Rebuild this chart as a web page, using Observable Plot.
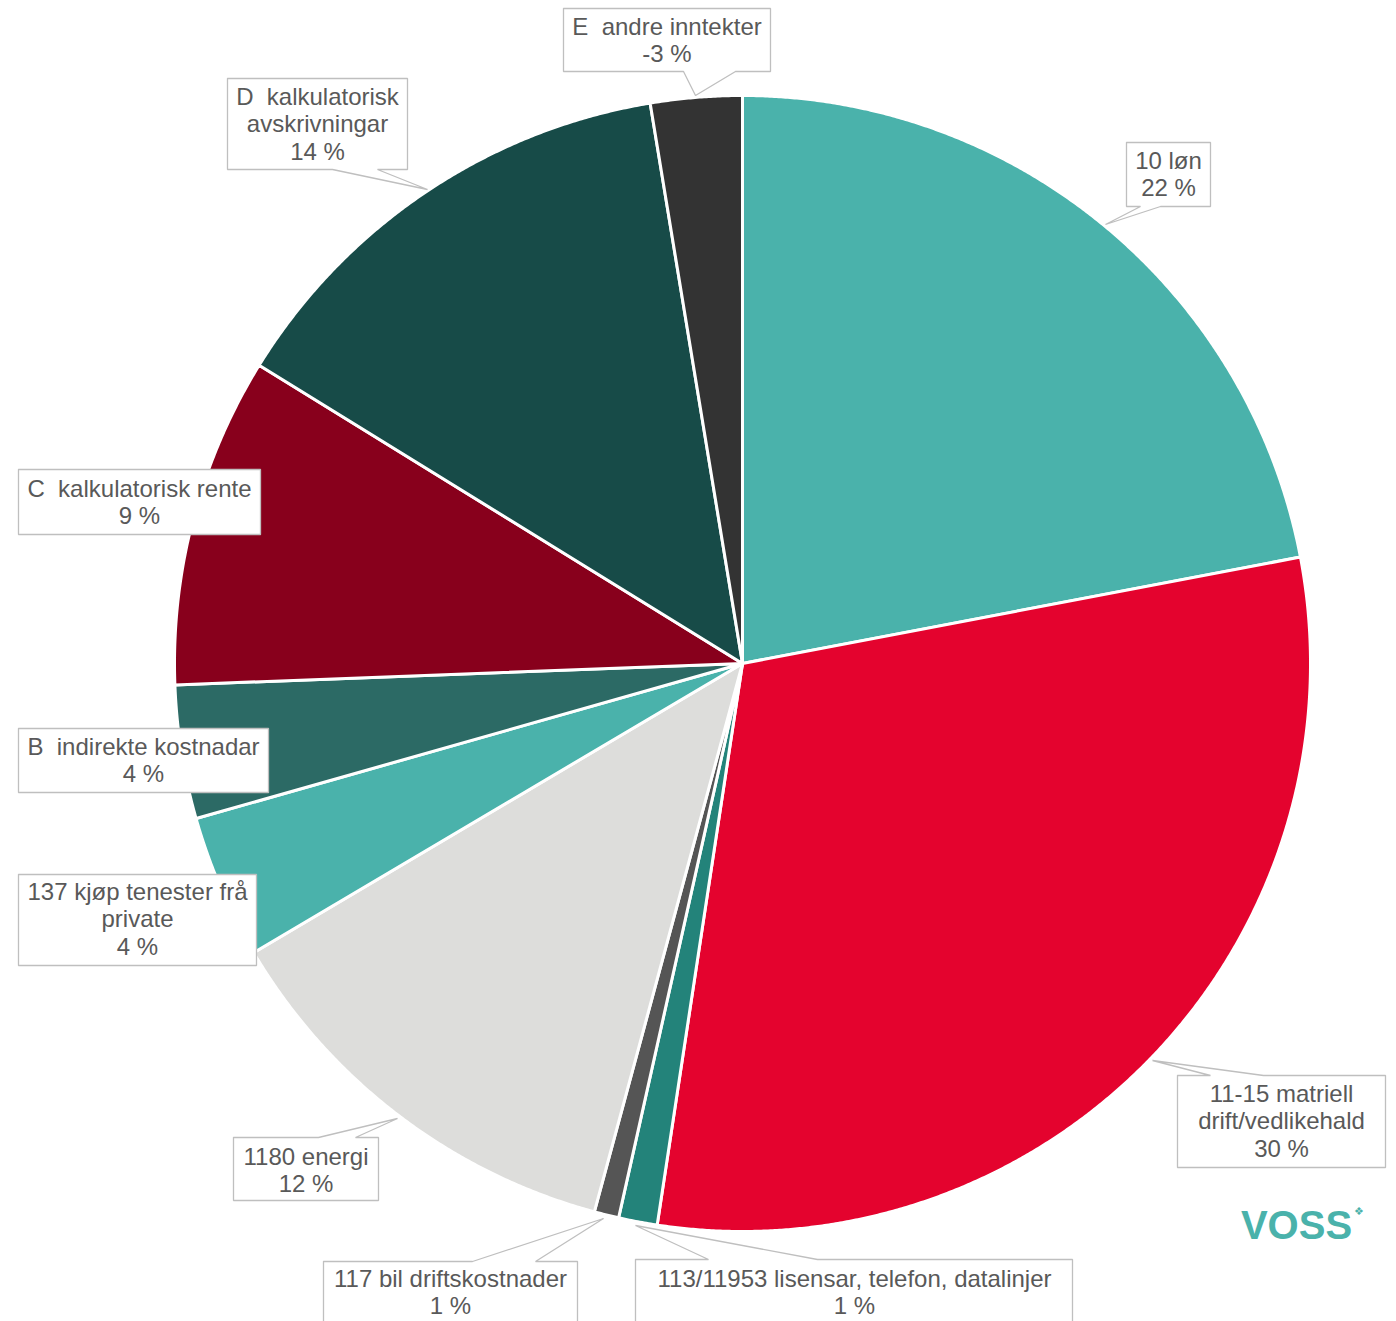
<!DOCTYPE html>
<html>
<head>
<meta charset="utf-8">
<script src="https://cdn.jsdelivr.net/npm/d3@7"></script>
<script src="https://cdn.jsdelivr.net/npm/@observablehq/plot@0.6"></script>
<style>
  html, body { margin: 0; padding: 0; background: #ffffff; }
  #chart svg { display: block; overflow: hidden; }
</style>
</head>
<body>
<div id="chart"></div>
<script>
// ---- Data ----
const categories = [
  "10 løn",
  "11-15 matriell\ndrift/vedlikehald",
  "113/11953 lisensar, telefon, datalinjer",
  "117 bil driftskostnader",
  "1180 energi",
  "137 kjøp tenester frå\nprivate",
  "B\u00a0\u00a0indirekte kostnadar",
  "C\u00a0\u00a0kalkulatorisk rente",
  "D\u00a0\u00a0kalkulatorisk\navskrivningar",
  "E\u00a0\u00a0andre inntekter"
];
const shares = [22.0, 30.4, 1.1, 0.7, 12.3, 4.1, 3.8, 9.4, 13.6, -2.6];
const sliceColors = ["#4AB2AB", "#E4032E", "#23837A", "#555555", "#DDDDDB",
                     "#4AB2AB", "#2C6A65", "#88001C", "#174B48", "#333333"];

// ---- Layout (pixels) ----
const W = 1396, H = 1321;
const cx = 742, cy = 663, R = 568;
const callouts = [
  {box: [1126, 142, 1210, 206], wedge: {edge: "bottom", a: 1140, b: 1160, tip: [1105, 224]}},
  {box: [1177, 1075, 1385, 1167], wedge: {edge: "top", a: 1210, b: 1263, tip: [1152, 1060]}},
  {box: [635, 1259, 1072, 1345], wedge: {edge: "top", a: 708, b: 817, tip: [635, 1225]}},
  {box: [323, 1261, 577, 1345], wedge: {edge: "top", a: 472, b: 535, tip: [603, 1218]}},
  {box: [233, 1137, 378, 1200], wedge: {edge: "top", a: 318, b: 355, tip: [397, 1118]}},
  {box: [18, 874, 256, 965]},
  {box: [18, 728, 268, 792]},
  {box: [18, 469, 260, 534]},
  {box: [227, 78, 407, 169], wedge: {edge: "bottom", a: 332, b: 377, tip: [427, 189]}},
  {box: [563, 8, 770, 71], wedge: {edge: "bottom", a: 683, b: 735, tip: [695, 95]}}
];
const textCenters = [
  [1168, 173], [1281, 1120], [854, 1291], [450, 1291], [305.5, 1169],
  [137, 918], [143, 759], [139, 501], [317, 123], [666.5, 39]
];

// ---- Pie geometry via d3.pie ----
const rows = categories.map((name, i) => ({name, value: shares[i], color: sliceColors[i]}));
const arcs = d3.pie().sort(null).value(d => Math.abs(d.value))(rows);
const slicePts = [];
arcs.forEach((a, i) => {
  slicePts.push({k: i, x: cx, y: cy, color: a.data.color});
  const n = Math.max(2, Math.ceil((a.endAngle - a.startAngle) / 0.004));
  for (let j = 0; j <= n; j++) {
    const t = a.startAngle + (a.endAngle - a.startAngle) * j / n;
    slicePts.push({k: i, x: cx + R * Math.sin(t), y: cy - R * Math.cos(t), color: a.data.color});
  }
  slicePts.push({k: i, x: cx, y: cy, color: a.data.color});
});

// ---- Callout polygons ----
const calloutPts = [];
callouts.forEach((c, i) => {
  const [x1, y1, x2, y2] = c.box;
  const w = c.wedge;
  const pts = [[x1, y1]];
  if (w && w.edge === "top") pts.push([w.a, y1], w.tip, [w.b, y1]);
  pts.push([x2, y1], [x2, y2]);
  if (w && w.edge === "bottom") pts.push([w.b, y2], w.tip, [w.a, y2]);
  pts.push([x1, y2], [x1, y1]);
  pts.forEach(([x, y]) => calloutPts.push({k: i, x, y}));
});

const labels = rows.map((d, i) => ({
  text: d.name + "\n" + Math.round(d.value) + " %",
  x: textCenters[i][0],
  y: textCenters[i][1]
}));

const chart = Plot.plot({
  width: W,
  height: H,
  margin: 0,
  x: {domain: [0, W], range: [0, W], axis: null},
  y: {domain: [0, H], range: [0, H], axis: null},
  color: {type: "identity"},
  style: {background: "#ffffff"},
  marks: [
    Plot.line(slicePts, {x: "x", y: "y", z: "k", fill: "color", stroke: "#ffffff", strokeWidth: 3, strokeLinejoin: "round"}),
    Plot.line(calloutPts, {x: "x", y: "y", z: "k", fill: "#ffffff", stroke: "#BFBFBF", strokeWidth: 1.3, strokeLinejoin: "miter"}),
    Plot.text(labels, {x: "x", y: "y", text: "text", fontSize: 24, lineHeight: 1.15,
      fill: "#595959", fontFamily: "Liberation Sans, Arial, sans-serif"}),
    Plot.text(["VOSS"], {x: 1296, y: 1226, text: d => d, fontSize: 40, fontWeight: "bold",
      fill: "#4AB2AB", fontFamily: "Liberation Sans, Arial, sans-serif", letterSpacing: "-4px"}),
    Plot.text(["❖"], {x: 1358, y: 1211, text: d => d, fontSize: 11, fill: "#4AB2AB"})
  ]
});
document.getElementById("chart").appendChild(chart);
</script>
</body>
</html>
